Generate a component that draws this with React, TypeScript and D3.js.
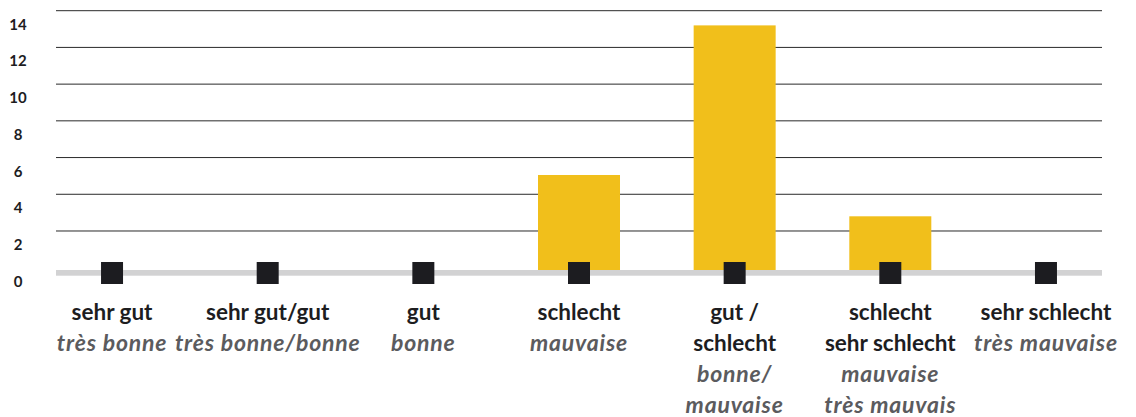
import { useEffect } from 'react';
import * as d3 from 'd3';

const W = 1136;
const H = 417;

// categories: German label lines, French label lines
const categories = ['sehr gut', 'sehr gut/gut', 'gut', 'schlecht', 'gut / schlecht', 'schlecht sehr schlecht', 'sehr schlecht'];
const germanLines = [['sehr gut'], ['sehr gut/gut'], ['gut'], ['schlecht'], ['gut /', 'schlecht'], ['schlecht', 'sehr schlecht'], ['sehr schlecht']];
const frenchLines = [['très bonne'], ['très bonne/bonne'], ['bonne'], ['mauvaise'], ['bonne/', 'mauvaise'], ['mauvaise', 'très mauvais'], ['très mauvaise']];
const values = [0, 0, 0, 5.05, 13.2, 2.8, 0];
const yTicks = [0, 2, 4, 6, 8, 10, 12, 14];

const PLOT = { left: 56, right: 1102, top: 10.7, zero: 267.7 };
const BAR_W = 82;
const SQ = 22;
const LINE_H = 31.2;
const FONT = 'Lato, "Noto Sans", sans-serif';

export default function App() {
  useEffect(() => {
    document.body.style.margin = '0';
    document.body.style.overflow = 'hidden';
  }, []);

  const x = d3.scalePoint<string>().domain(categories).range([PLOT.left, PLOT.right]).padding(0.36);
  const y = d3.scaleLinear().domain([0, 14]).range([PLOT.zero, PLOT.top]);

  const baseTop = y(0) + 2.3;
  const baseMid = baseTop + 3;

  return (
    <svg width={W} height={H} style={{ display: 'block', background: '#fff' }}>
      {/* grid lines + tick labels */}
      {yTicks.map(t => (
        <g key={t}>
          {t > 0 && (
            <line x1={PLOT.left} x2={PLOT.right} y1={y(t)} y2={y(t)} stroke="#2a2a2a" strokeWidth={1} />
          )}
          <text x={18} y={y(t) + 19} textAnchor="middle" fill="#1d1d1f"
            style={{ fontFamily: FONT, fontWeight: 700, fontSize: 15 }}>{t}</text>
        </g>
      ))}

      {/* bars */}
      {categories.map((c, i) => values[i] > 0 && (
        <rect key={c} x={(x(c) ?? 0) - BAR_W / 2} y={y(values[i])} width={BAR_W}
          height={baseTop - y(values[i])} fill="#f1bf1b" />
      ))}

      {/* baseline */}
      <rect x={PLOT.left} y={baseTop} width={PLOT.right - PLOT.left} height={5.7} fill="#d2d2d3" />

      {/* category markers */}
      {categories.map(c => (
        <rect key={c} x={(x(c) ?? 0) - SQ / 2} y={baseMid - SQ / 2} width={SQ} height={SQ} fill="#1c1c20" />
      ))}

      {/* labels */}
      {categories.map((c, i) => {
        const cx = x(c) ?? 0;
        const lines = [
          ...germanLines[i].map(t => ({ t, it: false })),
          ...frenchLines[i].map(t => ({ t, it: true })),
        ];
        return (
          <g key={c}>
            {lines.map((l, j) => (
              <text key={j} x={cx} y={319.5 + j * LINE_H} textAnchor="middle"
                fill={l.it ? '#5b5b5e' : '#1d1d1f'}
                style={{
                  fontFamily: FONT, fontWeight: 700, fontStyle: l.it ? 'italic' : 'normal',
                  fontSize: l.it ? 23 : 22.5, letterSpacing: l.it ? 0.8 : 0,
                }}>
                {l.t}
              </text>
            ))}
          </g>
        );
      })}
    </svg>
  );
}
